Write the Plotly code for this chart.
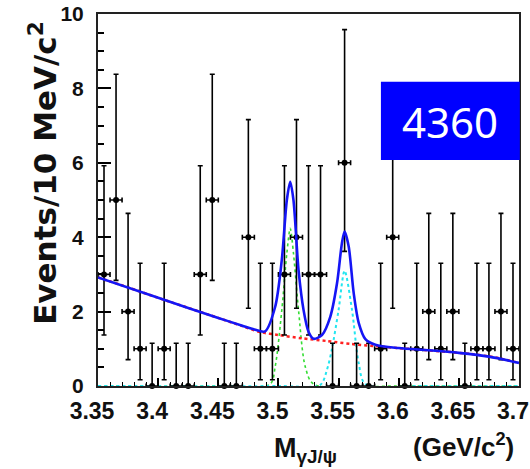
import plotly.graph_objects as go

# ---- data ----
bin_centers = [3.355 + 0.01 * i for i in range(35)]
counts = [3, 5, 2, 1, 0, 1, 0, 0, 3, 5, 0, 0, 4, 1, 1, 3, 4, 3, 3, 0,
          6, 0, 0, 1, 4, 0, 1, 2, 1, 2, 0, 1, 1, 2, 1]
# Poisson interval bounds by count (lower, upper)
interval_low = {0: 0.0, 1: 0.17, 2: 0.71, 3: 1.37, 4: 2.09, 5: 2.84, 6: 3.62}
interval_high = {0: 1.15, 1: 3.30, 2: 4.64, 3: 5.92, 4: 7.16, 5: 8.38, 6: 9.58}
x_half_width = 0.005

# total fit curve (blue)
fit_x = [3.350, 3.400, 3.450, 3.470, 3.480, 3.4889, 3.4973, 3.5028, 3.507,
         3.5098, 3.5125, 3.5167, 3.5209, 3.525, 3.5292, 3.5362, 3.5431,
         3.5487, 3.5528, 3.555, 3.5584, 3.5626, 3.5668, 3.5723, 3.5806,
         3.600, 3.625, 3.650, 3.675, 3.700]
fit_y = [2.92, 2.37, 1.83, 1.62, 1.52, 1.47, 2.13, 3.39, 5.00,
         5.49, 5.00, 3.12, 2.04, 1.46, 1.27, 1.37, 1.86,
         2.76, 3.84, 4.15, 3.75, 2.49, 1.69, 1.26, 1.11,
         1.02, 0.96, 0.89, 0.79, 0.62]

# background (red dotted)
bkg_x = [3.350, 3.375, 3.400, 3.425, 3.450, 3.470, 3.485, 3.500, 3.520,
         3.540, 3.560, 3.580, 3.600, 3.620, 3.640, 3.660, 3.680, 3.700]
bkg_y = [2.92, 2.65, 2.37, 2.10, 1.83, 1.61, 1.45, 1.37, 1.28,
         1.21, 1.13, 1.07, 1.02, 0.97, 0.92, 0.86, 0.77, 0.62]

# first signal component (green dotted)
sig1_x = [3.350, 3.450, 3.4931, 3.4973, 3.5028, 3.507, 3.5098, 3.5125,
          3.5167, 3.5223, 3.5292, 3.600, 3.700]
sig1_y = [0.0, 0.0, 0.05, 0.52, 2.04, 3.57, 4.24, 3.57,
          2.04, 0.52, 0.05, 0.0, 0.0]

# second signal component (cyan dotted)
sig2_x = [3.350, 3.500, 3.5348, 3.5403, 3.5445, 3.550, 3.555, 3.5612,
          3.5667, 3.5723, 3.620, 3.700]
sig2_y = [0.0, 0.0, 0.03, 0.43, 1.00, 2.04, 3.10, 2.04,
          0.62, 0.05, 0.0, 0.0]

x_tickvals = [3.35, 3.40, 3.45, 3.50, 3.55, 3.60, 3.65, 3.70]
x_ticktext = ["3.35", "3.4", "3.45", "3.5", "3.55", "3.6", "3.65", "3.7"]
y_tickvals = [0, 2, 4, 6, 8, 10]
y_ticktext = ["0", "2", "4", "6", "8", "10"]

err_plus = [interval_high[n] - n for n in counts]
err_minus = [n - interval_low[n] for n in counts]

NARROW = "Liberation Sans Narrow, Arial Narrow, Liberation Sans, sans-serif"

fig = go.Figure()

fig.add_trace(go.Scatter(x=sig1_x, y=sig1_y, mode="lines",
                         line=dict(color="#33dd33", width=1.6, dash="dot", shape="spline", smoothing=0.8),
                         hoverinfo="skip"))
fig.add_trace(go.Scatter(x=sig2_x, y=sig2_y, mode="lines",
                         line=dict(color="#22e6f0", width=2, dash="dot", shape="spline", smoothing=0.8),
                         hoverinfo="skip"))
fig.add_trace(go.Scatter(x=bkg_x, y=bkg_y, mode="lines",
                         line=dict(color="#ff2020", width=2.5, dash="dot", shape="spline", smoothing=0.8),
                         hoverinfo="skip"))

fig.add_trace(go.Scatter(
    x=bin_centers, y=counts, mode="markers",
    marker=dict(color="black", size=6, symbol="circle"),
    error_y=dict(type="data", symmetric=False, array=err_plus, arrayminus=err_minus,
                 color="black", thickness=1.6, width=2.5),
    error_x=dict(type="constant", value=x_half_width, color="black", thickness=1.6, width=2.5),
    cliponaxis=False,
))

fig.add_trace(go.Scatter(x=fit_x, y=fit_y, mode="lines",
                         line=dict(color="#1515f5", width=2.6, shape="spline", smoothing=0.8),
                         hoverinfo="skip"))

fig.update_layout(
    width=530, height=469,
    margin=dict(l=98, r=11, t=14, b=83),
    paper_bgcolor="white", plot_bgcolor="white",
    showlegend=False,
    xaxis=dict(range=[3.35, 3.70], tickvals=x_tickvals, ticktext=x_ticktext,
               automargin=False, ticklabeloverflow="allow", ticklabelshift=-6,
               ticks="inside", ticklen=8, tickwidth=1.5, tickcolor="black",
               minor=dict(dtick=0.01, ticks="inside", ticklen=4, tickcolor="black", tickwidth=1.2),
               showline=True, linecolor="#222", linewidth=2, mirror=True,
               showgrid=False, zeroline=False,
               tickfont=dict(family=NARROW, size=23, color="#111", weight="bold"),
               ticklabelstandoff=3),
    yaxis=dict(range=[0, 10], tickvals=y_tickvals, ticktext=y_ticktext,
               automargin=False, ticklabeloverflow="allow",
               ticks="inside", ticklen=13, tickwidth=2, tickcolor="black",
               minor=dict(dtick=0.5, ticks="inside", ticklen=6, tickcolor="black", tickwidth=1.5),
               showline=True, linecolor="#222", linewidth=2, mirror=True,
               showgrid=False, zeroline=False,
               tickfont=dict(family=NARROW, size=21, color="#111", weight="bold"),
               ticklabelstandoff=8),
)

fig.add_shape(type="rect", xref="paper", yref="paper",
              x0=0.672, x1=1.002, y0=0.6075, y1=0.818,
              fillcolor="#0000ff", line=dict(width=0), layer="above")

fig.add_annotation(x=0.836, y=0.712, xref="paper", yref="paper",
                   xanchor="center", yanchor="middle",
                   text="4360", showarrow=False,
                   font=dict(family="Noto Sans, sans-serif", size=42, color="white"))

fig.add_annotation(x=-0.131, y=0.5726, xref="paper", yref="paper",
                   xanchor="center", yanchor="middle",
                   text="Events/10 MeV/c<sup>2</sup>", textangle=-90, showarrow=False,
                   font=dict(family="DejaVu Sans, sans-serif", size=31, color="#111", weight="bold"))

fig.add_annotation(x=0.4917, y=-0.172, xref="paper", yref="paper",
                   xanchor="center", yanchor="middle",
                   text="M<sub>γJ/ψ</sub>", showarrow=False,
                   font=dict(family=NARROW, size=27, color="#111", weight="bold"))

fig.add_annotation(x=0.867, y=-0.161, xref="paper", yref="paper",
                   xanchor="center", yanchor="middle",
                   text="(GeV/c<sup>2</sup>)", showarrow=False,
                   font=dict(family=NARROW, size=26, color="#111", weight="bold"))

fig.write_html("out.html")
